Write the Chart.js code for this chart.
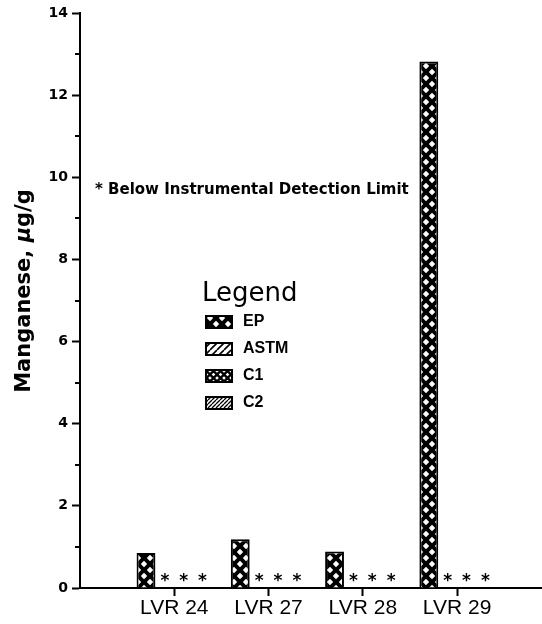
<!DOCTYPE html>
<html>
<head>
<meta charset="utf-8">
<script src="https://cdn.jsdelivr.net/npm/chart.js@4.4.1/dist/chart.umd.min.js"></script>
<style>
  html, body { margin: 0; padding: 0; background: #fff; }
  #wrap { position: relative; width: 542px; height: 624px; }
</style>
</head>
<body>
<div id="wrap"><canvas id="mnChart"></canvas></div>
<script>
// Manganese, ug/g per sample and method (null = below detection limit)
const samples = ['LVR 24', 'LVR 27', 'LVR 28', 'LVR 29'];
const methods = ['EP', 'ASTM', 'C1', 'C2'];
const epValues = [0.85, 1.19, 0.89, 12.82];
const astmValues = [null, null, null, null];
const c1Values = [null, null, null, null];
const c2Values = [null, null, null, null];
const yTicks = [0, 2, 4, 6, 8, 10, 12, 14];
const noteText = '* Below Instrumental Detection Limit';

const canvas = document.getElementById('mnChart');
const ctx = canvas.getContext('2d');

function makeTile(w, h, draw) {
    const c = document.createElement('canvas');
    c.width = w; c.height = h;
    draw(c.getContext('2d'), w, h);
    return ctx.createPattern(c, 'repeat');
}

// black field with white diamond holes (cross-hatch look)
function diamonds(s, r) {
    return makeTile(s, s, (g, w, h) => {
        g.fillStyle = '#000';
        g.fillRect(0, 0, w, h);
        g.fillStyle = '#fff';
        [[0, 0], [w, 0], [0, h], [w, h], [w / 2, h / 2]].forEach(([cx, cy]) => {
            g.beginPath();
            g.moveTo(cx - r, cy);
            g.lineTo(cx, cy - r);
            g.lineTo(cx + r, cy);
            g.lineTo(cx, cy + r);
            g.closePath();
            g.fill();
        });
    });
}

function slashes(s, lw) {
    return makeTile(s, s, (g, w, h) => {
        g.fillStyle = '#fff';
        g.fillRect(0, 0, w, h);
        g.strokeStyle = '#000';
        g.lineWidth = lw;
        g.beginPath();
        g.moveTo(-w, h); g.lineTo(0, 0);
        g.moveTo(0, h); g.lineTo(w, 0);
        g.moveTo(w, h); g.lineTo(2 * w, 0);
        g.stroke();
    });
}

const fills = [diamonds(12, 3.2), slashes(7, 1.6), diamonds(7, 1.8), slashes(4, 1.3)];
const seriesValues = [epValues, astmValues, c1Values, c2Values];

const datasets = methods.map((m, k) => ({
    label: m,
    data: samples.map((s, i) => ({ x: i + 1, y: seriesValues[k][i] })),
    backgroundColor: fills[k],
    borderColor: '#000',
    borderWidth: 2,
    borderSkipped: 'bottom',
    categoryPercentage: 0.8,
    barPercentage: 1.0
}));

// asterisks for values below the detection limit, note text, y title, legend, minor ticks
const extras = {
    id: 'extras',
    afterDatasetsDraw(chart) {
        const c = chart.ctx;
        const x = chart.scales.x, y = chart.scales.y;
        c.save();
        c.fillStyle = '#000';
        c.textAlign = 'center';
        c.textBaseline = 'middle';
        c.font = 'bold 17px "DejaVu Sans"';
        chart.data.datasets.forEach((ds, k) => {
            const meta = chart.getDatasetMeta(k);
            ds.data.forEach((d, i) => {
                if (d.y === null) {
                    const el = meta.data[i];
                    c.fillText('*', el.x, y.getPixelForValue(0) - 6);
                }
            });
        });

        // minor ticks on odd values
        c.strokeStyle = '#000';
        c.lineWidth = 2;
        for (let v = 1; v < 14; v += 2) {
            const py = Math.round(y.getPixelForValue(v));
            c.beginPath();
            c.moveTo(x.left - 5, py);
            c.lineTo(x.left, py);
            c.stroke();
        }

        // note
        c.textAlign = 'left';
        c.font = 'bold 15px "DejaVu Sans"';
        c.fillText(noteText, 95, 190);

        // y axis title
        c.save();
        c.translate(25, 291);
        c.rotate(-Math.PI / 2);
        const partA = 'Manganese, ', partB = 'μ', partC = 'g/g';
        const fA = 'bold 21px "DejaVu Sans"', fB = 'bold italic 21px "DejaVu Sans"';
        c.font = fA; const wA = c.measureText(partA).width; const wC = c.measureText(partC).width;
        c.font = fB; const wB = c.measureText(partB).width;
        let tx = -(wA + wB + wC) / 2;
        c.font = fA; c.fillText(partA, tx, 0); tx += wA;
        c.font = fB; c.fillText(partB, tx, 0); tx += wB;
        c.font = fA; c.fillText(partC, tx, 0);
        c.restore();

        // legend block
        c.font = '26px "DejaVu Sans"';
        c.fillText('Legend', 202, 294);
        c.font = 'bold 16px "Liberation Sans"';
        chart.data.datasets.forEach((ds, k) => {
            const cy = 322 + k * 27;
            c.fillStyle = ds.backgroundColor;
            c.fillRect(206, cy - 6, 26, 12);
            c.strokeStyle = '#000';
            c.lineWidth = 2;
            c.strokeRect(206, cy - 6, 26, 12);
            c.fillStyle = '#000';
            c.fillText(ds.label, 243, cy);
        });
        c.restore();
    }
};

new Chart(ctx, {
    type: 'bar',
    data: { datasets: datasets },
    options: {
        responsive: true,
        maintainAspectRatio: false,
        animation: false,
        layout: { padding: { top: 13, right: 1, left: 0, bottom: 0 } },
        plugins: {
            legend: { display: false },
            tooltip: { enabled: false }
        },
        scales: {
            x: {
                type: 'linear',
                min: 0,
                max: 4.89,
                offset: false,
                afterBuildTicks: (s) => { s.ticks = samples.map((n, i) => ({ value: i + 1 })); },
                afterFit: (s) => { s.height = 36; },
                ticks: {
                    color: '#000',
                    padding: 0,
                    autoSkip: false,
                    maxRotation: 0,
                    font: { family: 'Liberation Sans', size: 21 },
                    callback: (v) => samples[v - 1]
                },
                grid: { offset: false, drawOnChartArea: false, drawTicks: true, tickLength: 8, tickWidth: 2, tickColor: '#000' },
                border: { display: true, color: '#000', width: 2 }
            },
            y: {
                min: 0,
                max: 14,
                afterBuildTicks: (s) => { s.ticks = yTicks.map(v => ({ value: v })); },
                afterFit: (s) => { s.width = 80; },
                ticks: {
                    color: '#000',
                    padding: 4,
                    font: { family: 'DejaVu Sans', size: 14, weight: 'bold' }
                },
                grid: { drawOnChartArea: false, drawTicks: true, tickLength: 8, tickWidth: 2, tickColor: '#000' },
                border: { display: true, color: '#000', width: 2 }
            }
        }
    },
    plugins: [extras]
});
</script>
</body>
</html>
